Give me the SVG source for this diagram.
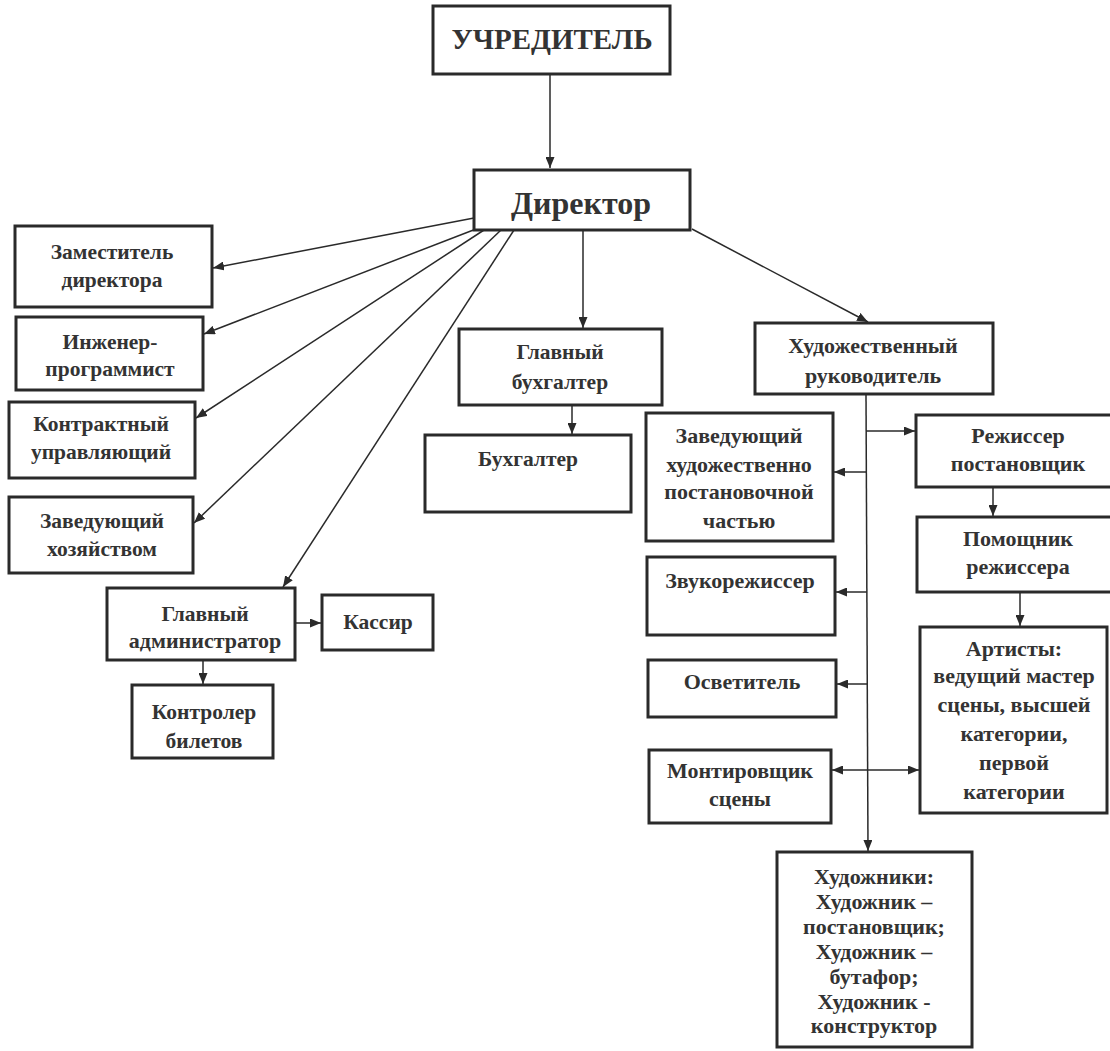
<svg xmlns="http://www.w3.org/2000/svg" width="1110" height="1051" viewBox="0 0 1110 1051">
<defs>
<style>
.box{fill:#fff;stroke:#2a2a2a;stroke-width:3}
.t{font-weight:bold;font-size:21.5px;fill:#333;text-anchor:middle}
.r{font-size:22px}
.big{font-size:29px}
.dir{font-size:32px}
.c line{stroke:#2a2a2a;stroke-width:1.5;fill:none}
</style>
<marker id="a" markerWidth="11" markerHeight="9" refX="11" refY="4.5" orient="auto-start-reverse" markerUnits="userSpaceOnUse"><path d="M0,0 L11,4.5 L0,9 z" fill="#2a2a2a"/></marker>
</defs>
<rect width="1110" height="1051" fill="#fff"/>
<g class="c">
<line x1="550" y1="74" x2="550" y2="168" marker-end="url(#a)"/>
<line x1="474" y1="218" x2="213" y2="268" marker-end="url(#a)"/>
<line x1="476" y1="229" x2="204" y2="334" marker-end="url(#a)"/>
<line x1="484" y1="230" x2="196" y2="418" marker-end="url(#a)"/>
<line x1="501" y1="230" x2="194" y2="523" marker-end="url(#a)"/>
<line x1="514" y1="230" x2="283" y2="587" marker-end="url(#a)"/>
<line x1="583" y1="230" x2="583" y2="328" marker-end="url(#a)"/>
<line x1="692" y1="229" x2="868" y2="322" marker-end="url(#a)"/>
<line x1="572" y1="405" x2="572" y2="434" marker-end="url(#a)"/>
<line x1="295" y1="623" x2="321" y2="623" marker-end="url(#a)"/>
<line x1="203" y1="660" x2="203" y2="684" marker-end="url(#a)"/>
<line x1="866" y1="394" x2="868" y2="851" marker-end="url(#a)"/>
<line x1="866" y1="431" x2="915" y2="431" marker-end="url(#a)"/>
<line x1="866" y1="472" x2="834" y2="472" marker-end="url(#a)"/>
<line x1="867" y1="592" x2="836" y2="592" marker-end="url(#a)"/>
<line x1="868" y1="684" x2="837" y2="684" marker-end="url(#a)"/>
<line x1="832" y1="770" x2="919" y2="770" marker-start="url(#a)" marker-end="url(#a)"/>
<line x1="993" y1="487" x2="993" y2="516" marker-end="url(#a)"/>
<line x1="1020" y1="592" x2="1020" y2="626" marker-end="url(#a)"/>
</g>
<g font-family="'Liberation Serif', 'DejaVu Serif', serif">
<g id="uchreditel"><rect class="box" x="433" y="6" width="237" height="68"/><text class="t big" x="552" y="49">УЧРЕДИТЕЛЬ</text></g>
<g id="direktor"><rect class="box" x="474" y="170" width="216" height="60"/><text class="t dir" x="581" y="214">Директор</text></g>
<g id="zam"><rect class="box" x="15" y="226" width="197" height="81"/><text class="t" x="112" y="259">Заместитель</text><text class="t" x="112" y="287">директора</text></g>
<g id="inzhener"><rect class="box" x="16" y="317" width="187" height="73"/><text class="t" x="110" y="349">Инженер-</text><text class="t" x="110" y="376">программист</text></g>
<g id="kontrakt"><rect class="box" x="9" y="402" width="186" height="76"/><text class="t" x="101" y="431">Контрактный</text><text class="t" x="101" y="459">управляющий</text></g>
<g id="zavhoz"><rect class="box" x="9" y="497" width="184" height="76"/><text class="t" x="102" y="528">Заведующий</text><text class="t" x="102" y="556">хозяйством</text></g>
<g id="admin"><rect class="box" x="107" y="588" width="188" height="72"/><text class="t" x="205" y="621">Главный</text><text class="t r" x="205" y="648">администратор</text></g>
<g id="kassir"><rect class="box" x="322" y="595" width="111" height="55"/><text class="t" x="378" y="629">Кассир</text></g>
<g id="kontroler"><rect class="box" x="132" y="685" width="141" height="73"/><text class="t" x="204" y="719">Контролер</text><text class="t" x="204" y="748">билетов</text></g>
<g id="glbuh"><rect class="box" x="459" y="329" width="203" height="76"/><text class="t" x="560" y="359">Главный</text><text class="t" x="560" y="389">бухгалтер</text></g>
<g id="buh"><rect class="box" x="425" y="435" width="206" height="77"/><text class="t" x="528" y="466">Бухгалтер</text></g>
<g id="hudruk"><rect class="box" x="755" y="323" width="238" height="71"/><text class="t r" x="873" y="353">Художественный</text><text class="t r" x="873" y="383">руководитель</text></g>
<g id="zavhudpost"><rect class="box" x="646" y="413" width="187" height="128"/><text class="t r" x="739" y="443">Заведующий</text><text class="t r" x="739" y="472">художественно</text><text class="t r" x="739" y="499">постановочной</text><text class="t r" x="739" y="528">частью</text></g>
<g id="rezhisser"><rect class="box" x="916" y="415" width="200" height="72"/><text class="t r" x="1018" y="443">Режиссер</text><text class="t r" x="1018" y="471">постановщик</text></g>
<g id="pomoshnik"><rect class="box" x="917" y="517" width="200" height="75"/><text class="t r" x="1018" y="546">Помощник</text><text class="t r" x="1018" y="574">режиссера</text></g>
<g id="zvuk"><rect class="box" x="647" y="557" width="188" height="78"/><text class="t r" x="740" y="588">Звукорежиссер</text></g>
<g id="artisty"><rect class="box" x="920" y="627" width="187" height="186"/><text class="t r" x="1014" y="656">Артисты:</text><text class="t r" x="1014" y="683">ведущий мастер</text><text class="t r" x="1014" y="712">сцены, высшей</text><text class="t r" x="1014" y="741">категории,</text><text class="t r" x="1014" y="770">первой</text><text class="t r" x="1014" y="799">категории</text></g>
<g id="osvetitel"><rect class="box" x="648" y="660" width="188" height="57"/><text class="t r" x="742" y="689">Осветитель</text></g>
<g id="montirovshik"><rect class="box" x="649" y="750" width="182" height="73"/><text class="t r" x="740" y="778">Монтировщик</text><text class="t r" x="740" y="806">сцены</text></g>
<g id="hudozhniki"><rect class="box" x="777" y="852" width="195" height="195"/><text class="t r" x="874" y="884">Художники:</text><text class="t r" x="874" y="909">Художник –</text><text class="t r" x="874" y="934">постановщик;</text><text class="t r" x="874" y="959">Художник –</text><text class="t r" x="874" y="984">бутафор;</text><text class="t r" x="874" y="1009">Художник -</text><text class="t r" x="874" y="1033">конструктор</text></g>
</g>
</svg>
